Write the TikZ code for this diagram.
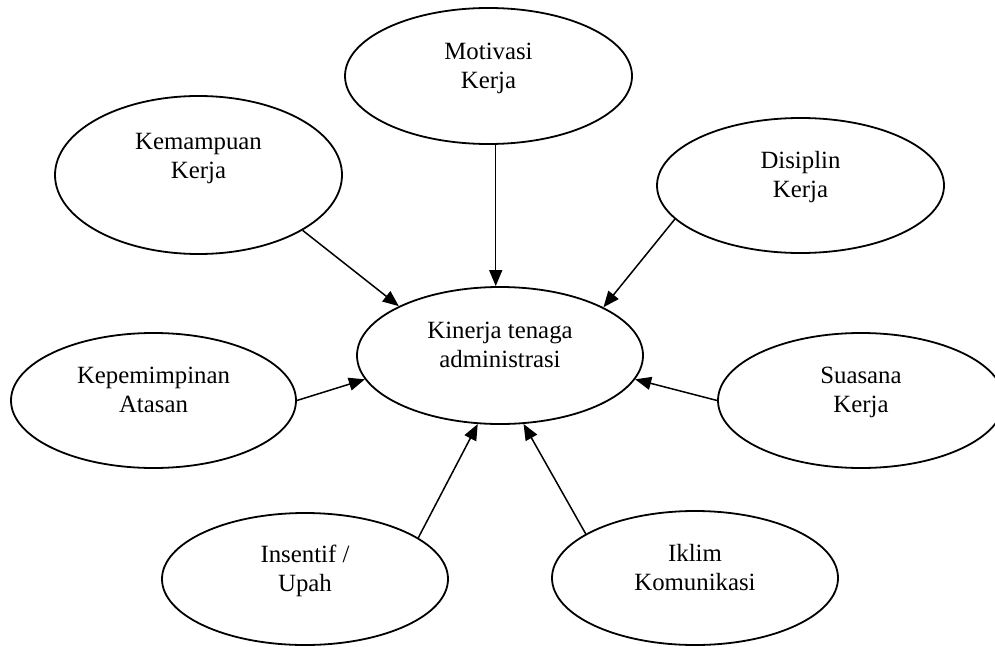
\documentclass[tikz,border=0pt]{standalone}
\usepackage{fontspec}
\setmainfont{Liberation Serif}
\usepackage{tikz}
\usetikzlibrary{arrows.meta,shapes.geometric}
\newcommand{\ftext}[2][1pt]{\raisebox{#1}[0pt][0pt]{\begin{tabular}{@{}c@{}}#2\end{tabular}}}

\begin{document}
\begin{tikzpicture}[x=0.5pt,y=-0.5pt,
  factor/.style={draw, ellipse, line width=0.9pt, minimum width=143.5pt, minimum height=67.5pt, inner sep=0pt, font=\fontsize{12.4}{14.4}\selectfont},
  arr/.style={line width=0.75pt, -{Triangle[length=8pt,width=6.5pt]}}]
\useasboundingbox (0,0) rectangle (995,647);
% centre
\node[factor, minimum width=143pt, minimum height=68.5pt] (kin) at (500,355.5) {\ftext{Kinerja tenaga\\administrasi}};
% factors around it
\node[factor, minimum height=68pt] (mot) at (488.5,76) {\ftext{Motivasi\\Kerja}};
\node[factor, minimum height=79pt] (kem) at (198.5,175) {\ftext[5.5pt]{Kemampuan\\Kerja}};
\node[factor] (dis) at (800.5,185.5) {\ftext{Disiplin\\Kerja}};
\node[factor, minimum width=142.5pt] (kep) at (153.5,400.5) {\ftext{Kepemimpinan\\Atasan}};
\node[factor, minimum width=143pt] (sua) at (861,400.5) {\ftext{Suasana\\Kerja}};
\node[factor, minimum width=143pt, minimum height=66pt] (ins) at (305,579) {\ftext{Insentif /\\Upah}};
\node[factor, minimum width=143pt, minimum height=67pt] (ikl) at (695,578) {\ftext{Iklim\\Komunikasi}};
% arrows
\draw[arr] (kem.-28.5) -- (kin.154.6);
\draw[arr] (mot.-84.5) -- (mot.-84.5 |- kin.north);
\draw[arr] (dis.-165) -- (kin.25.4);
\draw[arr] (kep.0) -- (kin.-170);
\draw[arr] (sua.180) -- (kin.-10);
\draw[arr] (ins.20.6) -- (kin.-108.6);
\draw[arr] (ikl.158.5) -- (kin.-71.2);
\end{tikzpicture}
\end{document}
